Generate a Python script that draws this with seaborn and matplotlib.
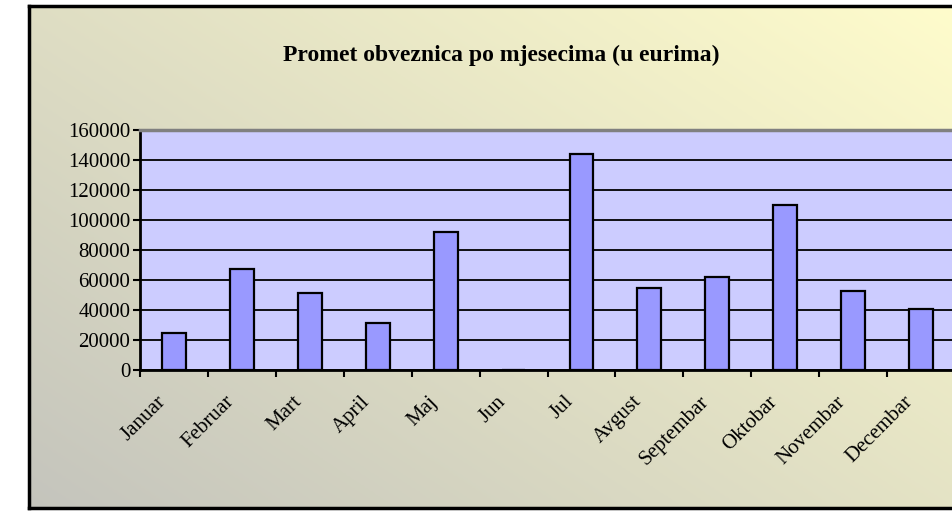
import matplotlib
matplotlib.use("Agg")
import matplotlib.pyplot as plt
import matplotlib.transforms as mtransforms
import seaborn as sns
import numpy as np
import pandas as pd

# monthly bond turnover (EUR)
months = ["Januar", "Februar", "Mart", "April", "Maj", "Jun", "Jul",
          "Avgust", "Septembar", "Oktobar", "Novembar", "Decembar"]
turnover = [25000, 67300, 51300, 31500, 92000, 0, 143800,
            54700, 62200, 110000, 52900, 40700]
y_ticks = [0, 20000, 40000, 60000, 80000, 100000, 120000, 140000, 160000]

df = pd.DataFrame({"mjesec": months, "promet": turnover})

sns.set_style("white")
plt.rcParams["font.family"] = ["Liberation Serif", "DejaVu Serif"]
plt.rcParams["text.color"] = "black"
plt.rcParams["xtick.color"] = "black"
plt.rcParams["ytick.color"] = "black"

W, H = 952, 511
fig = plt.figure(figsize=(W / 100, H / 100), dpi=100)
fig.patch.set_facecolor("white")

# chart area with diagonal grey -> pale yellow gradient
bg = fig.add_axes([29 / W, 3 / H, (W - 29) / W + 0.01, 502 / H])
gx, gy = np.meshgrid(np.linspace(0, 1, 200), np.linspace(0, 1, 200))
t = np.clip(0.55 * gx + 0.45 * gy, 0, 1)[..., None]
c0 = np.array([0.77, 0.77, 0.74])
c1 = np.array([1.0, 0.99, 0.80])
bg.imshow(c0 + (c1 - c0) * t, origin="lower", aspect="auto", extent=[0, 1, 0, 1])
bg.set_xticks([])
bg.set_yticks([])
for s in bg.spines.values():
    s.set_color("black")
    s.set_linewidth(2.5)

fig.text(501 / W, 1 - 55 / H, "Promet obveznica po mjesecima (u eurima)",
         ha="center", va="center", fontsize=17, fontweight="bold")

ax = fig.add_axes([140 / W, (H - 370) / H, (955 - 140) / W, 240 / H])
ax.set_facecolor("#ccccff")
sns.barplot(data=df, x="mjesec", y="promet", color="#9999ff", saturation=1,
            edgecolor="black", linewidth=1.6, width=0.35, ax=ax)

ax.set_xlim(-0.5, 11.5)
ax.set_ylim(0, 160000)
ax.set_yticks(y_ticks)
ax.set_yticklabels([str(v) for v in y_ticks], fontsize=15)
ax.yaxis.grid(True, color="black", linewidth=1.3)
ax.set_axisbelow(True)

ax.set_xticks(np.arange(-0.5, 12, 1))
ax.set_xticklabels([])
ax.set_xticks(np.arange(12), minor=True)
ax.set_xticklabels(months, minor=True, rotation=45, ha="right", fontsize=15)
ax.tick_params(axis="x", which="major", direction="out", length=5, width=1.5,
               bottom=True, color="black")
ax.tick_params(axis="x", which="minor", length=0, pad=16)
ax.tick_params(axis="y", direction="out", length=5, width=1.5, left=True,
               color="black", pad=2)
offset = mtransforms.ScaledTranslation(-4 / 100, 0, fig.dpi_scale_trans)
for lab in ax.get_xticklabels(minor=True):
    lab.set_transform(lab.get_transform() + offset)

ax.set_xlabel("")
ax.set_ylabel("")
for side in ["left", "bottom"]:
    ax.spines[side].set_color("black")
    ax.spines[side].set_linewidth(2)
ax.spines["top"].set_color("#808080")
ax.spines["top"].set_linewidth(2.5)
ax.spines["right"].set_visible(False)

fig.savefig("out.png", dpi=100)
